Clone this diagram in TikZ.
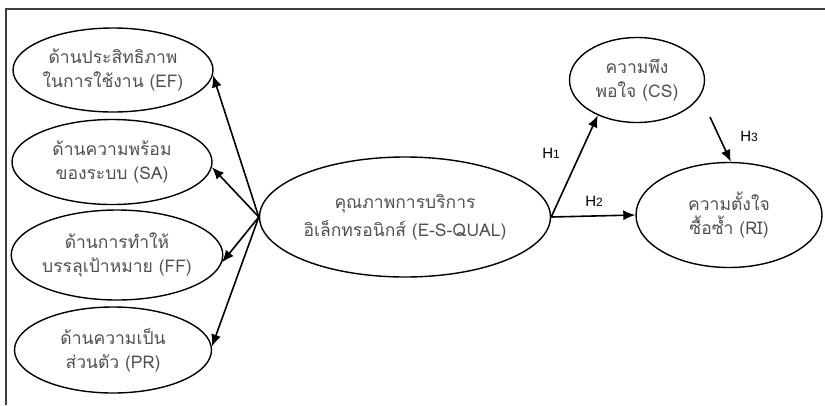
\documentclass[tikz,border=0pt]{standalone}
\usepackage{fontspec}
\setmainfont{Liberation Sans}
\newfontfamily\thaifont[Script=Thai]{Loma}
\usetikzlibrary{shapes.geometric,arrows.meta}
\definecolor{txtgray}{RGB}{80,80,80}
\tikzset{
  construct/.style={ellipse,draw=black,line width=1.4pt,inner sep=0pt,align=center,
    text=txtgray,font=\thaifont\fontsize{17.5}{24}\selectfont},
  arr/.style={line width=1.6pt,-{Latex[length=12pt,width=10pt]}},
  hlabel/.style={font=\fontsize{15}{17}\selectfont,text=black}
}
\begin{document}
\begin{tikzpicture}[x=1pt,y=-1pt]
\useasboundingbox (0,0) rectangle (825,405);
\draw[line width=1.3pt,draw=black!75] (6,405) -- (6,9) -- (825,9);
\node[construct,minimum width=200pt,minimum height=84pt] (ef) at (113,70) {ด้านประสิทธิภาพ\\ในการใช้งาน (EF)};
\node[construct,minimum width=200pt,minimum height=85pt] (sa) at (112,162) {ด้านความพร้อม\\ของระบบ (SA)};
\node[construct,minimum width=206pt,minimum height=90pt] (ff) at (117,255) {ด้านการทำให้\\บรรลุเป้าหมาย (FF)};
\node[construct,minimum width=197pt,minimum height=86pt] (pr) at (113,350) {ด้านความเป็น\\ส่วนตัว (PR)};
\node[construct,minimum width=291pt,minimum height=120pt,font=\thaifont\fontsize{17.5}{28}\selectfont] (esq) at (405,217) {คุณภาพการบริการ\\อิเล็กทรอนิกส์ (E-S-QUAL)};
\node[construct,minimum width=135pt,minimum height=85pt] (cs) at (637,80) {ความพึง\\พอใจ (CS)};
\node[construct,minimum width=186pt,minimum height=105pt] (ri) at (729,215) {ความตั้งใจ\\ซื้อซ้ำ (RI)};
\coordinate (h3s) at (710,117);
\draw[arr] (esq.west) -- (ef.-3);
\draw[arr] (esq.west) -- (sa.-3);
\draw[arr] (esq.west) -- (ff.-4);
\draw[arr] (esq.west) -- (pr.2);
\draw[arr] (esq.east) -- (cs.222);
\draw[arr] (esq.east) -- (ri.west);
\draw[arr] (h3s) -- (ri.88);
\node[hlabel] (h1) at (551,153) {H{\fontsize{12}{13}\selectfont 1}};
\node[hlabel] (h2) at (594,201) {H{\fontsize{12}{13}\selectfont 2}};
\node[hlabel] (h3) at (749,136) {H{\fontsize{12}{13}\selectfont 3}};
\end{tikzpicture}
\end{document}
